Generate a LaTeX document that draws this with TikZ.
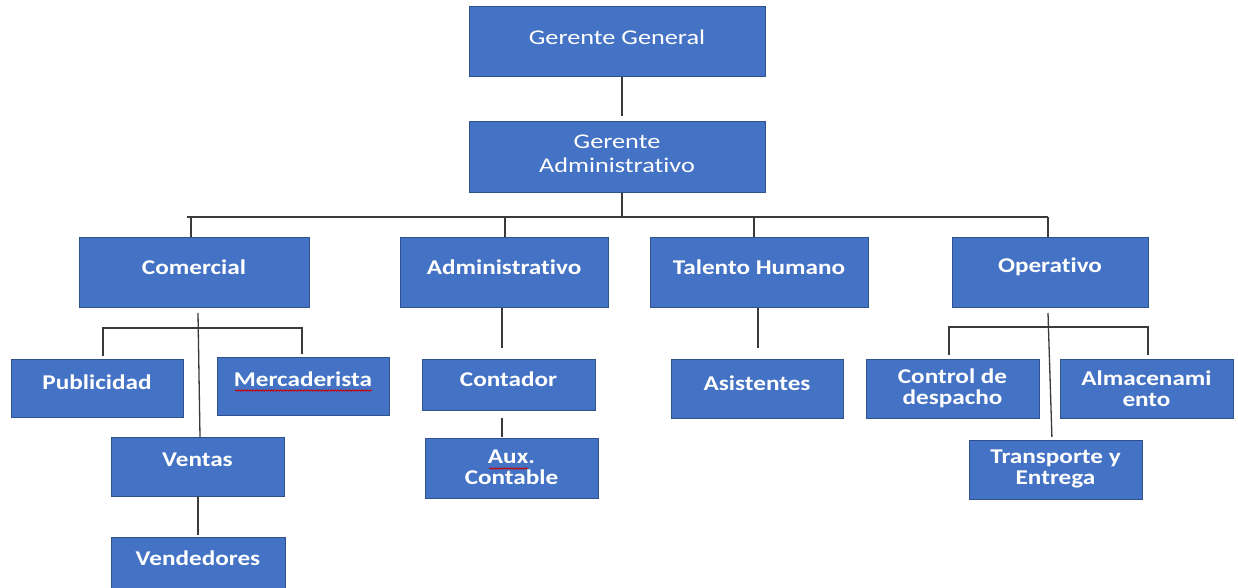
\documentclass[tikz,border=0pt]{standalone}
\usepackage{fontspec}
\setmainfont{Carlito}[Ligatures={NoCommon,NoRequired,NoContextual}]
\usetikzlibrary{decorations.pathmorphing}
\definecolor{boxblue}{HTML}{4472C4}
\definecolor{boxedge}{HTML}{2F528F}
\definecolor{linegray}{HTML}{3A3A3A}
\newcommand{\sx}[1]{\scalebox{1.2}[1]{#1}}
\newcommand{\sxt}[1]{\scalebox{1.25}[1]{#1}}
\begin{document}
\begin{tikzpicture}[x=1pt,y=-1pt,
  orgbox/.style={draw=boxedge, fill=boxblue, line width=1pt, inner sep=0pt, outer sep=0pt},
  lbl/.style={text=white, inner sep=0pt, align=center, font=\fontsize{21}{21}\selectfont\bfseries},
  lbltop/.style={text=white, inner sep=0pt, align=center, font=\fontsize{21}{24}\selectfont},
  conn/.style={draw=linegray, line width=1.3pt},
  spell/.style={draw=red!80!black, line width=0.8pt, decorate, decoration={snake, amplitude=0.7pt, segment length=3pt}}]
\useasboundingbox (0,0) rectangle (1238,588);
\clip (0,0) rectangle (1238,588);

% boxes
\node[orgbox, minimum width=296pt, minimum height=70pt] (gg) at (617,42) {};
\node[orgbox, minimum width=296pt, minimum height=70pt] (ga) at (617,157) {};
\node[orgbox, minimum width=230pt, minimum height=70pt] (com) at (194,272) {};
\node[orgbox, minimum width=208pt, minimum height=70pt] (adm) at (504,272) {};
\node[orgbox, minimum width=218pt, minimum height=70pt] (th) at (759,272) {};
\node[orgbox, minimum width=196pt, minimum height=70pt] (op) at (1050,272) {};
\node[orgbox, minimum width=172pt, minimum height=58pt] (pub) at (97,388) {};
\node[orgbox, minimum width=172pt, minimum height=58pt] (merc) at (303,386) {};
\node[orgbox, minimum width=173pt, minimum height=59pt] (ven) at (197.5,466.5) {};
\node[orgbox, minimum width=174pt, minimum height=63pt] (vend) at (198,568.5) {};
\node[orgbox, minimum width=173pt, minimum height=51pt] (cont) at (508.5,384.5) {};
\node[orgbox, minimum width=173pt, minimum height=60pt] (aux) at (511.5,468) {};
\node[orgbox, minimum width=172pt, minimum height=59pt] (asis) at (757,388.5) {};
\node[orgbox, minimum width=173pt, minimum height=59pt] (ctrl) at (952.5,388.5) {};
\node[orgbox, minimum width=173pt, minimum height=59pt] (alm) at (1146.5,388.5) {};
\node[orgbox, minimum width=173pt, minimum height=59pt] (trans) at (1055.5,469.5) {};

% labels
\node[lbltop] (gg-t) at (617,37) {\sxt{Gerente General}};
\node[lbltop] (ga-t) at (617,154) {\sxt{Gerente}\\\sxt{Administrativo}};
\node[lbl] (com-t) at (194,267) {\sx{Comercial}};
\node[lbl] (adm-t) at (504,267) {\sx{Administrativo}};
\node[lbl] (th-t) at (759,267) {\sx{Talento Humano}};
\node[lbl] (op-t) at (1050,267) {\sx{Operativo}};
\node[lbl] (pub-t) at (97,382) {\sx{Publicidad}};
\node[lbl] (merc-t) at (303,379) {\sx{Mercaderista}};
\node[lbl] (ven-t) at (197.5,460) {\sx{Ventas}};
\node[lbl] (vend-t) at (198,558) {\sx{Vendedores}};
\node[lbl] (cont-t) at (508.5,379) {\sx{Contador}};
\node[lbl] (aux-t) at (511.5,467) {\sx{Aux.}\\\sx{Contable}};
\node[lbl] (asis-t) at (757,383) {\sx{Asistentes}};
\node[lbl] (ctrl-t) at (952.5,388.5) {\sx{Control de}\\\sx{despacho}};
\node[lbl] (alm-t) at (1146.5,388.5) {\sx{Almacenami}\\\sx{ento}};
\node[lbl] (trans-t) at (1055.5,468.5) {\sx{Transporte y}\\\sx{Entrega}};

% spell-check underlines
\coordinate (mercU1) at (235,390.5);
\coordinate (mercU2) at (372,390.5);
\coordinate (auxU1) at (489,468.5);
\coordinate (auxU2) at (528,468.5);
\draw[spell] (mercU1) -- (mercU2);
\draw[spell] (auxU1) -- (auxU2);

% connectors
\coordinate (busL) at (187,217);
\coordinate (busR) at (1048,217);
\draw[conn, shorten >=6pt] ([xshift=5pt]gg.south) -- ([xshift=5pt]ga.north);
\draw[conn] ([xshift=5pt,yshift=-1pt]ga.south) -- ([xshift=5pt]ga.south |- busL);
\draw[conn] (busL) -- (busR);
\draw[conn] ([xshift=-3pt]com.north) -- ([xshift=-3pt]com.north |- busL);
\draw[conn] ([xshift=1pt]adm.north) -- ([xshift=1pt]adm.north |- busL);
\draw[conn] ([xshift=-5pt]th.north) -- ([xshift=-5pt]th.north |- busL);
\draw[conn] ([xshift=-2pt]op.north) -- (busR);

% Comercial branch
\coordinate (cbL) at (103,328);
\coordinate (cbR) at (302,328);
\draw[conn] ([xshift=4pt,yshift=-6pt]com.south) -- ([xshift=2.5pt]ven.north);
\draw[conn, shorten <=3pt, shorten >=3pt] ([xshift=6pt]pub.north) -- (cbL) -- (cbR) -- ([xshift=-1pt]merc.north);
\draw[conn, shorten >=2pt] ([xshift=0.5pt]ven.south) -- (vend.north);

% Administrativo branch
\draw[conn, shorten <=1pt, shorten >=11pt] ([xshift=-2pt]adm.south) -- ([xshift=-6.5pt]cont.north);
\draw[conn, shorten <=8pt, shorten >=1pt] ([xshift=-6.5pt]cont.south) -- ([xshift=-9.5pt]aux.north);

% Talento Humano branch
\draw[conn, shorten <=1pt, shorten >=11pt] ([xshift=-1pt]th.south) -- ([xshift=1pt]asis.north);

% Operativo branch
\coordinate (obL) at (949,327);
\coordinate (obR) at (1148,327);
\draw[conn, shorten >=3pt] ([xshift=-2pt,yshift=-6pt]op.south) -- ([xshift=-3.5pt]trans.north);
\draw[conn, shorten <=4pt, shorten >=4pt] ([xshift=-3.5pt]ctrl.north) -- (obL) -- (obR) -- ([xshift=1.5pt]alm.north);
\end{tikzpicture}
\end{document}
